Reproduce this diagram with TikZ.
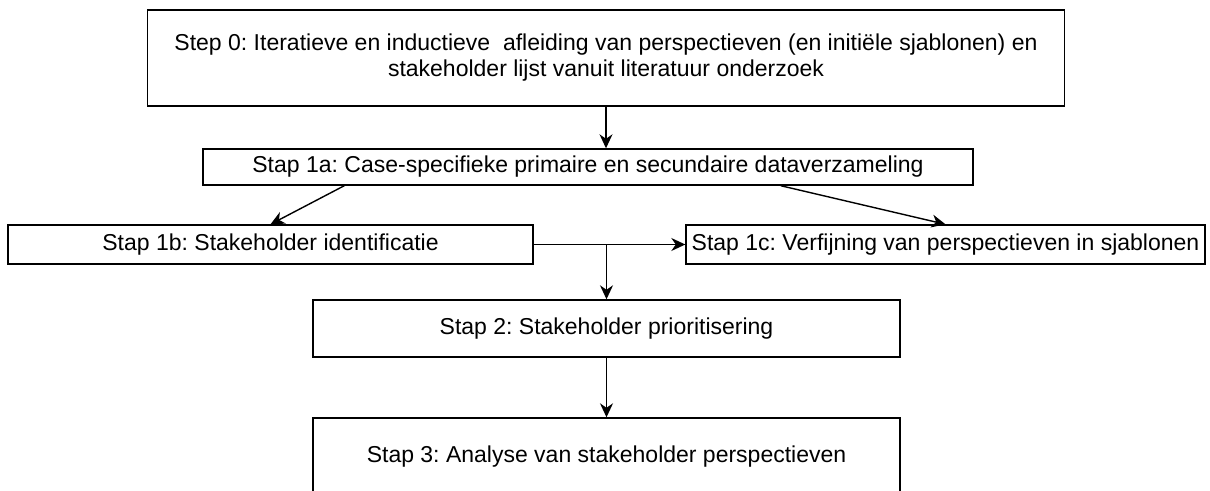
\documentclass[tikz,border=0pt]{standalone}
\usepackage{fontspec}
\setmainfont{Liberation Sans}
\usetikzlibrary{arrows.meta,calc}
\begin{document}
\frenchspacing
\begin{tikzpicture}[x=1pt,y=-1pt,
  box/.style={draw,line width=1.4pt,rectangle,inner sep=0pt,align=center,font=\fontsize{23}{26}\selectfont},
  arr/.style={line width=1.4pt,-{Stealth[length=14pt,width=13pt,inset=4.5pt]}}]
\clip (0,0) rectangle (1210,490);
\fill[white] (0,0) rectangle (1210,490);
\node[box,minimum width=917pt,minimum height=96pt] (s0) at (606,58)
  {Step 0: Iteratieve en inductieve\ \ afleiding van perspectieven (en initiële sjablonen) en\\stakeholder lijst vanuit literatuur onderzoek};
\node[box,minimum width=770pt,minimum height=36pt] (s1a) at (588,167)
  {Stap 1a: Case-specifieke primaire en secundaire dataverzameling};
\node[box,minimum width=525pt,minimum height=39pt] (s1b) at (270.5,244.5)
  {Stap 1b: Stakeholder identificatie};
\node[box,minimum width=519pt,minimum height=39pt] (s1c) at (945.5,244.5)
  {Stap 1c: Verfijning van perspectieven in sjablonen};
\node[box,minimum width=587pt,minimum height=57pt] (s2) at (606.5,328.5)
  {Stap 2: Stakeholder prioritisering};
\node[box,minimum width=587pt,minimum height=78pt] (s3) at (606.5,457)
  {Stap 3: Analyse van stakeholder perspectieven};
\draw[arr] (s0.south) -- (s0.south |- s1a.north);
\draw[arr] ([xshift=142pt]s1a.south west) -- (s1b.north);
\draw[arr] ([xshift=-193pt]s1a.south east) -- (s1c.north);
\draw[arr] (s1b.east) -- (s1c.west);
\draw[arr] (s1b.east -| s2.north) -- (s2.north);
\draw[arr] (s2.south) -- (s3.north);
\end{tikzpicture}
\end{document}
